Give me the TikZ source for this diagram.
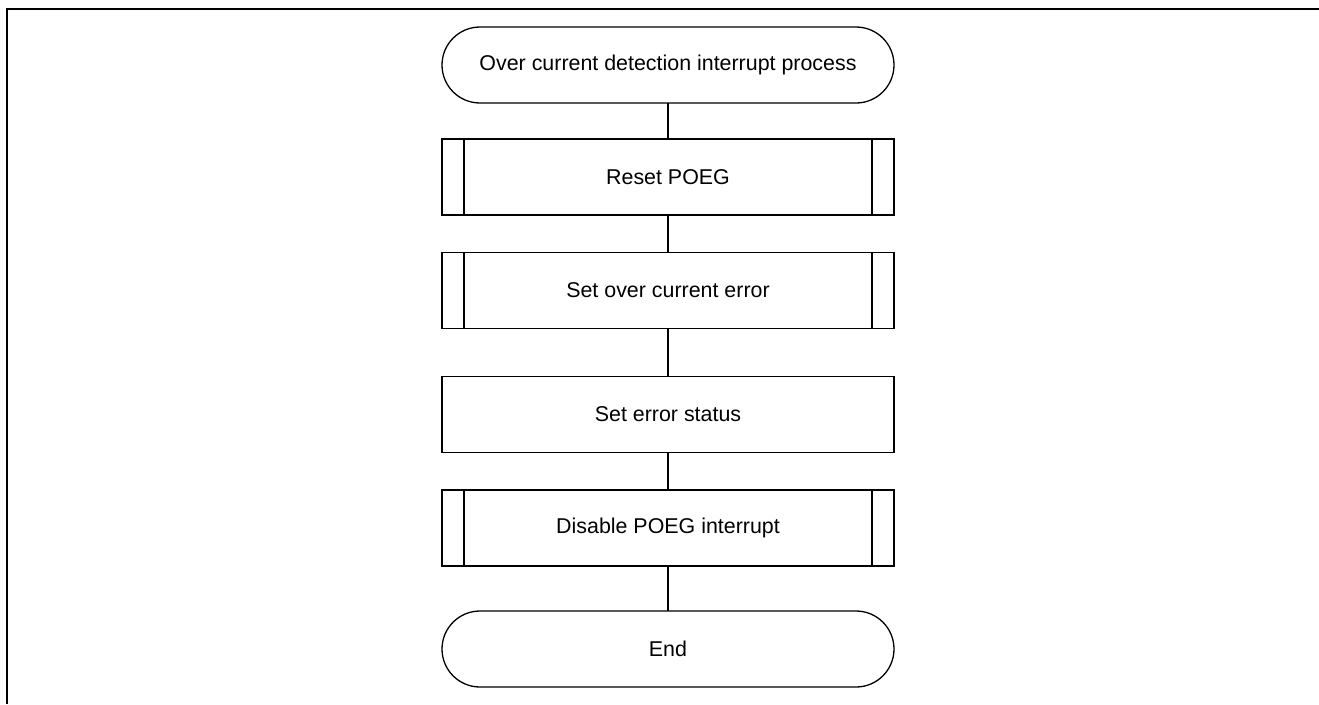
\documentclass[tikz,border=0pt]{standalone}
\usepackage{fontspec}
\setmainfont{Liberation Sans}
\usetikzlibrary{shapes.misc}
\tikzset{
  base/.style={draw=black, line width=1.3pt, minimum width=452pt, minimum height=76pt, inner sep=0pt, outer sep=0pt, font=\fontsize{21.4}{25}\selectfont},
  terminal/.style={base, rounded rectangle},
  process/.style={base, rectangle},
  subproc/.style={base, rectangle, path picture={
      \draw[line width=1.1pt] ([xshift=22pt]path picture bounding box.north west) -- ([xshift=22pt]path picture bounding box.south west);
      \draw[line width=1.1pt] ([xshift=-22pt]path picture bounding box.north east) -- ([xshift=-22pt]path picture bounding box.south east);}},
  link/.style={draw=black, line width=1.3pt},
  frame/.style={draw=black, line width=2.5pt}
}
\begin{document}
\begin{tikzpicture}[x=1pt, y=-1pt]
\useasboundingbox (0,0) rectangle (1319,704);
\coordinate (fa) at (7,704);
\coordinate (fb) at (7,9);
\coordinate (fc) at (1319,9);
\draw[frame] (fa) -- (fb) -- (fc);
\node[terminal] (start) at (668,65) {Over current detection interrupt process};
\node[subproc] (b1) at (668,177) {Reset POEG};
\node[subproc] (b2) at (668,290.5) {Set over current error};
\node[process] (b3) at (668,414.5) {Set error status};
\node[subproc] (b4) at (668,528) {Disable POEG interrupt};
\node[terminal] (end) at (668,649) {End};
\draw[link] (start) -- (b1);
\draw[link] (b1) -- (b2);
\draw[link] (b2) -- (b3);
\draw[link] (b3) -- (b4);
\draw[link] (b4) -- (end);
\end{tikzpicture}
\end{document}
